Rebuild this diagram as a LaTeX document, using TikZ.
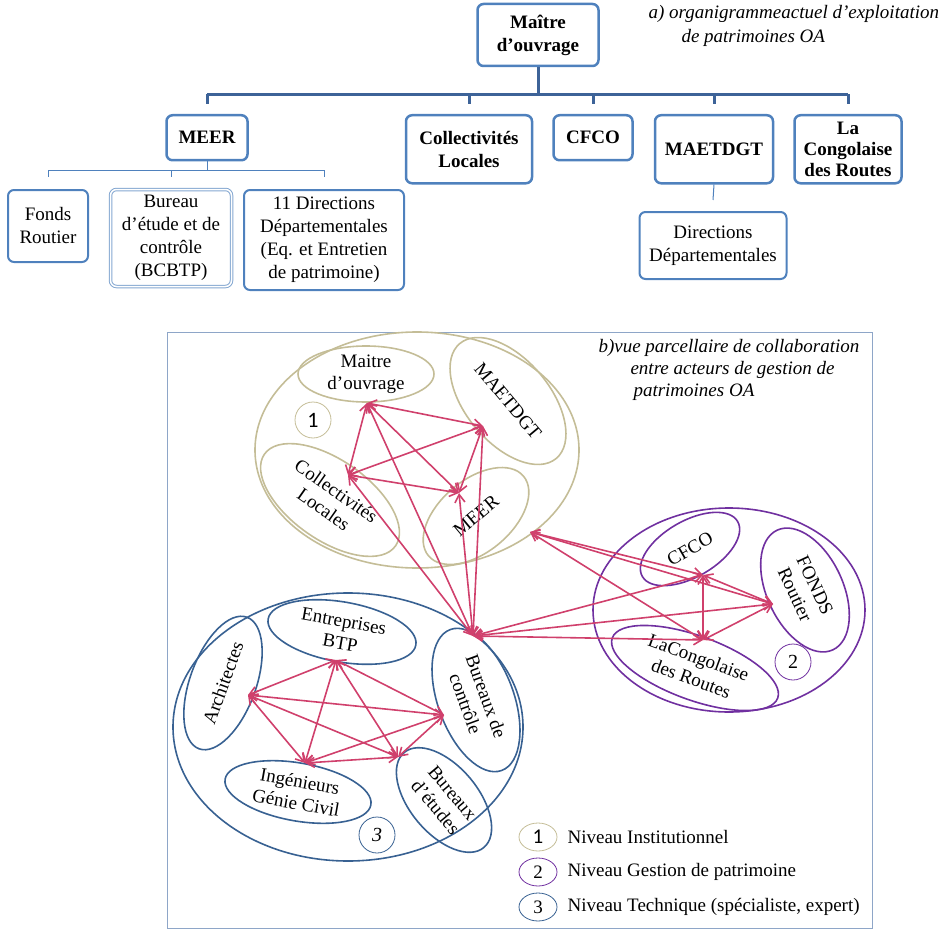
\documentclass[tikz,border=0pt]{standalone}
\usepackage{fontspec}
\setmainfont{Liberation Serif}
\newfontfamily\calfont{Carlito}
\usetikzlibrary{arrows.meta,shapes.geometric}

\definecolor{boxblue}{HTML}{4F81BD}
\definecolor{busblue}{HTML}{3D6398}
\definecolor{lvlonec}{HTML}{C4BD97}
\definecolor{lvltwoc}{HTML}{7030A0}
\definecolor{lvlthreec}{HTML}{386192}
\definecolor{linkred}{HTML}{D0406C}
\definecolor{framegray}{HTML}{8EA6C8}

\tikzset{
  orgbox/.style={draw=boxblue,line width=2.5pt,rounded corners=6pt,align=center,inner sep=0pt,
    font=\fontsize{19}{23}\selectfont\bfseries},
  subbox/.style={orgbox,line width=2pt,font=\fontsize{19}{23}\selectfont},
  bus/.style={draw=busblue,line width=3pt},
  subbus/.style={draw=boxblue,line width=1pt},
  level/.style={ellipse,draw,line width=1.6pt,inner sep=0pt},
  actor/.style={ellipse,draw,line width=1.6pt,inner sep=0pt,align=center,font=\fontsize{19}{22}\selectfont},
  badge/.style={circle,draw,line width=0.8pt,minimum size=36pt,inner sep=0pt,font=\fontsize{20}{20}\selectfont},
  keymark/.style={ellipse,draw,line width=0.8pt,minimum width=38pt,minimum height=28pt,inner sep=0pt,
    font=\fontsize{19}{19}\selectfont},
  keytext/.style={anchor=west,inner sep=0pt,font=\fontsize{19}{22}\selectfont},
  link/.style={draw=linkred,line width=1.6pt,<->},
}

\begin{document}
\begin{tikzpicture}[x=1pt,y=-1pt,>={Straight Barb[length=8pt,width=10pt]}]
\useasboundingbox (0,0) rectangle (948,931);

%% a) organigramme
\node[orgbox,minimum width=121pt,minimum height=62pt] (mdo) at (538,35) {Maître\\d’ouvrage};
\node[anchor=north west,align=left,font=\fontsize{19}{24}\selectfont\itshape] (titlea) at (645,2)
  {a) organigrammeactuel d’exploitation\\\hspace*{33pt}de patrimoines OA};

\node[orgbox,anchor=north,minimum width=81pt,minimum height=45pt] (meer) at (207,114) {MEER};
\node[orgbox,anchor=north,minimum width=126pt,minimum height=68pt] (coll) at (469,114) {Collectivités\\Locales};
\node[orgbox,anchor=north,minimum width=79pt,minimum height=45pt] (cfco) at (593,114) {CFCO};
\node[orgbox,anchor=north,minimum width=118pt,minimum height=68pt] (maet) at (714,114) {MAETDGT};
\node[orgbox,anchor=north,minimum width=107pt,minimum height=68pt,font=\fontsize{19}{21}\selectfont\bfseries]
  (lcr) at (848,114) {La\\Congolaise\\des Routes};

\node[subbox,anchor=north,minimum width=80pt,minimum height=72pt] (fonds) at (48,189) {Fonds\\Routier};
\node[subbox,anchor=north,minimum width=121pt,minimum height=97pt,draw=boxblue!70,line width=1pt,
  double=white,double distance=1.5pt] (bcbtp) at (171,189) {Bureau\\d’étude et de\\contrôle\\(BCBTP)};
\node[subbox,anchor=north,minimum width=160pt,minimum height=100pt] (dir11) at (324,189)
  {11 Directions\\Départementales\\(Eq. et Entretien\\de patrimoine)};
\node[subbox,anchor=north,minimum width=147pt,minimum height=67pt] (dd) at (713,211) {Directions\\Départementales};

\draw[bus] (mdo.south) -- ++(0,27) coordinate (hub);
\draw[bus] (meer.north |- hub) -- (lcr.north |- hub);
\foreach \n in {meer,coll,cfco,maet,lcr}
  \draw[bus] (\n.north |- hub) -- ([yshift=10pt]\n.north);

\draw[subbus] (meer.south) -- ++(0,9) coordinate (subhub);
\draw[subbus] (fonds.north |- subhub) -- (dir11.north |- subhub);
\foreach \n in {fonds,bcbtp,dir11}
  \draw[subbus] (\n.north |- subhub) -- ([yshift=12pt]\n.north);
\draw[subbus] (maet.south) -- ([yshift=11pt]dd.north);

%% b) vue parcellaire
\draw[framegray,line width=1pt] (167,332) rectangle (872,928);
\node[anchor=north west,align=left,font=\fontsize{19}{22}\selectfont\itshape] (titleb) at (595,336)
  {b)vue parcellaire de collaboration\\\hspace*{32pt}entre acteurs de gestion de\\\hspace*{35pt}patrimoines OA};

\node[level,draw=lvlonec,minimum width=324pt,minimum height=236pt] (lvlone) at (417,450) {};
\node[level,draw=lvltwoc,minimum width=272pt,minimum height=204pt] (lvltwo) at (729,610) {};
\node[level,draw=lvlthreec,minimum width=350pt,minimum height=268pt] (lvlthree) at (348,727) {};

%% niveau 1
\node[actor,draw=lvlonec,minimum width=136pt,minimum height=56pt] (mdo2) at (366,374) {Maitre\\d’ouvrage};
\node[actor,draw=lvlonec,rotate=-50,minimum width=150pt,minimum height=84pt] (maet2) at (508,401) {MAETDGT};
\node[actor,draw=lvlonec,rotate=-35,minimum width=160pt,minimum height=80pt] (coll2) at (330,500) {Collectivités\\Locales};
\node[actor,draw=lvlonec,rotate=40,minimum width=124pt,minimum height=72pt] (meer2) at (476,516) {MEER};
\node[badge,draw=lvlonec,font=\calfont\fontsize{22}{22}\selectfont] (one) at (313,420) {1};

%% niveau 2
\node[actor,draw=lvltwoc,rotate=30,minimum width=110pt,minimum height=56pt] (cfco2) at (690,549) {CFCO};
\node[actor,draw=lvltwoc,rotate=-65,minimum width=132pt,minimum height=76pt] (fonds2) at (805,590) {FONDS\\Routier};
\node[actor,draw=lvltwoc,rotate=-20,minimum width=176pt,minimum height=64pt] (lcr2) at (695,668) {LaCongolaise\\des Routes};
\node[badge,draw=lvltwoc] (two) at (793,662) {2};

%% niveau 3
\node[actor,draw=lvlthreec,rotate=-10,minimum width=150pt,minimum height=60pt] (ent) at (342,632) {Entreprises\\BTP};
\node[actor,draw=lvlthreec,rotate=70,minimum width=140pt,minimum height=66pt] (arch) at (223,683) {Architectes};
\node[actor,draw=lvlthreec,rotate=-70,minimum width=150pt,minimum height=76pt] (bc) at (476,700) {Bureaux de\\contrôle};
\node[actor,draw=lvlthreec,rotate=-10,minimum width=148pt,minimum height=58pt] (ing) at (298,792) {Ingénieurs\\Génie Civil};
\node[actor,draw=lvlthreec,rotate=-50,minimum width=124pt,minimum height=68pt] (be) at (444,800) {Bureaux\\d’études};
\node[badge,draw=lvlthreec] (three) at (377,835) {\itshape 3};

%% points d'attache des liens
\coordinate (mdo-p) at (367,403);
\coordinate (maet-p) at (483,426);
\coordinate (coll-p) at (348,475);
\coordinate (meer-p) at (459,493);
\coordinate (lvlone-p) at (530,532);
\coordinate (bc-top) at (473,636);
\coordinate (cfco-p) at (703,575);
\coordinate (fonds-p) at (773,604);
\coordinate (lcr-p) at (703,640);
\coordinate (ent-p) at (336,660);
\coordinate (arch-p) at (248,695);
\coordinate (bc-left) at (444,715);
\coordinate (ing-p) at (305,763);
\coordinate (be-p) at (398,757);

\foreach \a/\b in {mdo-p/maet-p,mdo-p/coll-p,mdo-p/meer-p,maet-p/coll-p,maet-p/meer-p,coll-p/meer-p,
    mdo-p/bc-top,maet-p/bc-top,coll-p/bc-top,meer-p/bc-top,
    cfco-p/fonds-p,cfco-p/lcr-p,fonds-p/lcr-p,
    bc-top/cfco-p,bc-top/fonds-p,bc-top/lcr-p,lvlone-p/cfco-p,lvlone-p/fonds-p,lvlone-p/lcr-p,
    ent-p/arch-p,ent-p/bc-left,ent-p/ing-p,ent-p/be-p,arch-p/bc-left,arch-p/ing-p,arch-p/be-p,
    bc-left/ing-p,bc-left/be-p,ing-p/be-p}
  \draw[link] (\a) -- (\b);

%% legende
\node[keymark,draw=lvlonec,font=\calfont\fontsize{21}{21}\selectfont] (keyone) at (538,837) {1};
\node[keymark,draw=lvltwoc] (keytwo) at (538,872) {2};
\node[keymark,draw=lvlthreec] (keythree) at (538,907) {3};
\node[keytext] (txtone) at ([xshift=10pt]keyone.east) {Niveau Institutionnel};
\node[keytext] (txttwo) at ([xshift=10pt]keytwo.east) {Niveau Gestion de patrimoine};
\node[keytext] (txtthree) at ([xshift=10pt]keythree.east) {Niveau Technique (spécialiste, expert)};

\end{tikzpicture}
\end{document}
